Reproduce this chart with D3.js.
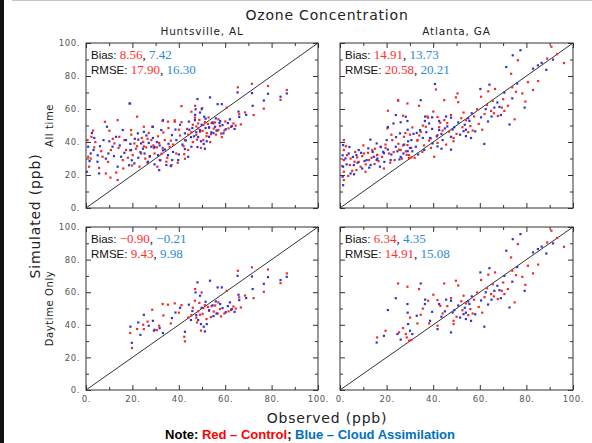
<!DOCTYPE html>
<html>
<head>
<meta charset="utf-8">
<script src="https://cdn.jsdelivr.net/npm/d3@7"></script>
<style>
    body { margin: 0; background: #fff; }
    svg { display: block; }
</style>
</head>
<body>
<div id="chart"></div>
<script>
// observed, simulated (ppb)
// daytime points show up in both rows, night points only in "All time"
const hsvDayRed = [[19.0,35.0],[19.8,25.8],[24.6,40.1],[24.9,37.4],[28.5,49.3],[29.2,36.4],[30.5,36.8],[33.0,52.8],
    [33.3,45.8],[35.3,52.4],[36.5,40.9],[38.2,53.2],[41.1,52.1],[42.3,32.7],[42.6,29.9],[45.4,46.0],[47.0,62.0],
    [46.9,54.8],[47.5,44.4],[48.3,48.3],[49.1,46.2],[49.8,59.9],[50.5,50.3],[51.2,52.1],[51.9,43.6],[53.0,48.7],
    [54.1,51.5],[55.6,51.9],[56.7,47.0],[57.7,49.7],[59.6,47.0],[60.6,60.9],[61.4,48.3],[63.5,51.3],[65.4,73.2],
    [66.0,56.9],[66.7,50.7],[71.5,75.3],[72.2,56.4],[76.6,60.3],[78.4,74.0],[83.8,65.6],[86.5,71.6],
    [44.0,44.5],[46.0,50.5],[48.8,53.5],[50.2,46.8],[52.5,51.0],[53.8,44.8],[55.0,48.2],[57.0,53.8],[58.2,45.2],
    [62.5,49.2],[31.5,39.5],[26.5,42.0],[22.0,37.5],[40.0,47.5],[47.8,41.5],[49.5,36.5],[64.5,50.0],[68.5,58.0]];
const hsvDayBlue = [[19.1,38.9],[19.7,29.0],[24.9,46.2],[23.4,33.9],[28.8,42.5],[31.7,38.0],[33.1,35.0],[38.5,47.6],
    [37.0,44.2],[42.6,35.8],[44.3,52.4],[47.2,59.9],[48.0,66.1],[49.1,57.9],[49.5,40.5],[50.7,38.9],[51.2,36.0],
    [53.4,67.1],[54.9,45.4],[56.7,63.0],[58.5,63.0],[58.8,50.3],[61.1,51.5],[62.8,49.7],[65.3,70.1],[65.7,58.5],
    [66.0,55.2],[71.5,69.7],[71.8,62.0],[76.6,65.2],[78.4,69.3],[83.8,67.5],[86.5,69.5],[45.2,43.0],[55.9,54.4],
    [45.8,48.5],[47.5,46.0],[49.8,50.5],[51.5,54.2],[53.0,49.0],[54.5,52.0],[56.2,47.0],[57.8,52.8],[60.2,47.8],
    [62.0,53.8],[29.5,37.0],[27.0,39.5],[22.5,41.5],[40.5,50.5],[48.3,43.0],[52.0,40.5],[64.0,48.0],[69.0,56.5]];
const hsvNightRed = [[0.6,41.2],[0.9,31.1],[1.3,25.1],[2.3,43.2],[3.5,36.8],[5.6,24.4],[7.1,31.1],[8.1,52.3],
    [8.5,21.0],[10.0,46.9],[10.7,35.2],[12.2,39.2],[13.6,53.3],[13.6,17.0],[14.3,43.2],[15.8,29.1],[16.5,41.2],
    [17.2,35.2],[19.0,63.4],[19.4,47.3],[20.1,32.1],[20.8,39.2],[22.0,55.4],[23.0,25.1],[23.7,33.1],[24.9,49.3],
    [25.9,36.8],[27.4,31.1],[28.1,41.2],[29.5,33.1],[30.7,25.1],[31.7,29.1],[33.9,41.2],[34.6,28.1],[36.0,37.2],
    [36.8,26.1],[38.2,52.3],[38.9,33.1],[41.1,61.8],[45.4,58.4],[48.3,51.3],[50.5,41.2],[52.8,54.9],[54.9,51.3],
    [57.0,47.3],[42.6,41.2],[44.0,35.2],
    [2.0,30.0],[4.0,40.0],[6.5,34.5],[9.5,28.0],[11.5,42.0],[14.0,36.5],[16.0,24.0],[18.0,30.5],[21.5,36.0],
    [24.0,42.5],[26.5,27.5],[27.0,45.5],[29.0,38.0],[31.0,43.5],[32.5,33.0],[35.0,30.5],[37.5,38.5],[39.5,27.5],
    [40.5,44.0],[43.5,48.0],[46.0,40.0],[47.5,49.5],[52.0,45.5],[53.5,40.0],[56.0,44.5],[13.0,21.5],[10.5,18.5],
    [3.0,47.0],[19.5,44.5],[25.5,30.0],[33.0,36.5],[35.5,48.5],[42.0,37.5],[60.0,52.5],[58.5,43.0]];
const hsvNightBlue = [[0.3,22.0],[0.9,37.2],[2.0,33.1],[3.2,35.2],[4.9,28.1],[5.6,21.0],[7.5,41.2],[9.0,49.3],
    [9.6,33.1],[11.4,37.2],[12.9,43.2],[13.6,25.1],[15.1,31.1],[15.8,47.3],[17.2,41.2],[18.7,63.4],[19.4,35.2],
    [20.8,27.1],[22.3,45.3],[23.7,39.2],[25.2,33.1],[26.6,28.1],[28.1,37.2],[28.8,49.3],[31.0,32.1],[32.4,47.3],
    [33.1,53.3],[34.6,26.1],[35.3,32.1],[36.5,25.5],[37.1,29.1],[38.9,41.2],[39.7,29.1],[42.6,45.3],[44.0,31.1],
    [45.4,37.2],[46.9,53.3],[49.1,47.3],[50.9,55.4],[53.0,43.2],[55.6,49.3],[59.2,45.3],
    [1.5,28.5],[3.5,42.5],[6.0,37.5],[8.5,30.0],[10.0,40.5],[12.0,31.5],[14.5,38.0],[16.5,33.5],[18.5,26.0],
    [21.0,42.0],[22.5,30.5],[24.5,36.0],[26.0,44.0],[27.5,31.5],[29.5,26.5],[30.5,40.0],[32.0,29.0],[34.0,35.5],
    [35.5,39.0],[37.5,34.0],[40.0,32.5],[41.5,38.5],[43.0,41.0],[44.5,47.5],[46.5,43.5],[48.0,37.0],[51.5,48.5],
    [54.0,46.0],[57.5,51.5],[47.0,56.5],[50.0,60.5],[5.0,32.0],[2.5,45.5],[31.5,23.0]];

const atlDayRed = [[15.9,32.3],[19.5,36.4],[24.9,65.4],[25.3,35.4],[28.2,34.4],[28.6,32.3],[28.9,63.4],[29.6,30.3],
    [30.6,30.7],[33.2,40.9],[33.9,62.0],[34.6,46.2],[37.8,54.8],[38.2,40.9],[41.8,55.2],[43.0,51.7],[44.7,65.4],
    [47.6,56.4],[48.7,42.5],[49.7,67.1],[50.7,64.2],[53.0,57.9],[54.0,53.2],[55.9,49.7],[56.9,47.0],[58.8,59.9],
    [60.5,67.5],[63.6,70.8],[64.8,58.9],[65.5,65.0],[66.5,72.2],[67.7,55.8],[69.4,60.9],[70.5,58.9],[73.4,81.4],
    [73.9,73.2],[74.9,53.8],[76.3,89.6],[78.2,69.5],[79.5,64.6],[80.6,76.3],[82.8,71.6],[88.9,90.6],[90.7,97.8],
    [93.1,93.3],[96.1,87.9],[48.7,40.5],[41.8,39.5],
    [44.0,47.0],[46.0,51.5],[50.0,45.0],[52.0,54.5],[55.0,46.0],[57.5,55.5],[59.5,51.0],[62.0,57.0],[63.0,62.5],
    [66.0,57.5],[70.0,66.0],[72.0,62.0],[75.5,70.5],[85.0,77.0],[30.0,44.5],[35.5,50.0],[40.0,58.5],[27.0,38.0],
    [52.5,49.0],[61.0,47.5]];
const atlDayBlue = [[15.7,29.2],[18.8,33.3],[20.5,49.1],[23.9,56.4],[24.6,34.4],[28.9,52.8],[29.2,40.5],[30.0,36.4],
    [31.0,34.4],[32.9,45.6],[34.6,65.4],[36.4,52.8],[38.6,42.5],[41.8,37.4],[42.5,52.8],[45.0,48.3],[47.6,35.4],
    [48.3,47.6],[50.7,51.9],[53.0,46.6],[54.0,43.6],[55.5,52.8],[56.2,42.5],[60.2,72.2],[61.9,38.9],[64.1,74.8],
    [66.2,60.9],[68.4,61.3],[69.0,56.4],[71.3,85.5],[72.7,50.7],[73.9,66.5],[74.1,92.6],[77.4,95.7],[79.2,60.9],
    [82.8,84.5],[84.9,86.5],[88.5,83.8],[91.4,90.0],[47.6,54.8],[55.0,54.4],
    [43.5,45.0],[45.5,55.5],[49.0,49.0],[51.5,44.5],[53.5,50.5],[56.5,57.5],[58.0,46.5],[60.5,55.0],[62.5,60.0],
    [65.0,55.5],[67.5,64.0],[70.5,70.0],[76.0,75.5],[86.5,88.0],[29.0,47.5],[36.5,55.5],[39.5,48.0],[26.0,31.0],
    [54.0,47.5],[63.5,52.5]];
const atlNightRed = [[1.6,41.2],[1.6,35.2],[1.6,29.1],[1.6,22.0],[1.6,17.0],[3.0,32.1],[4.2,26.1],[5.2,22.6],
    [6.2,28.1],[7.3,30.7],[8.8,25.1],[10.2,33.1],[10.9,22.0],[12.4,29.1],[13.8,35.2],[14.8,26.7],[15.9,32.1],
    [17.4,37.2],[18.8,24.0],[20.3,48.3],[21.0,33.1],[22.4,41.2],[23.4,29.1],[24.9,65.1],[26.0,35.2],[27.4,43.2],
    [28.9,38.2],[29.6,32.1],[31.0,48.9],[33.2,41.2],[35.3,34.1],[36.8,49.3],[38.9,42.2],[40.4,31.1],[41.1,71.9],
    [41.8,44.2],[44.7,53.3],[46.8,46.3],[50.4,69.5],
    [0.9,25.5],[2.5,37.5],[4.5,30.0],[6.5,34.0],[8.0,28.0],[9.5,31.5],[11.0,26.5],[12.0,33.5],[13.5,30.5],
    [15.0,36.0],[16.5,28.5],[18.0,31.0],[19.5,38.5],[21.5,27.5],[23.0,34.0],[25.0,39.0],[26.5,30.0],[28.0,45.5],
    [30.5,36.5],[32.0,30.5],[34.0,44.0],[36.0,38.0],[37.5,55.5],[39.0,36.5],[42.5,49.0],[45.5,38.5],[3.5,19.5],
    [7.0,23.0],[10.0,38.0],[22.0,44.5],[27.0,56.0],[20.5,59.0]];
const atlNightBlue = [[1.3,38.2],[1.3,25.1],[1.3,13.9],[2.3,30.1],[3.7,33.1],[4.5,21.0],[5.9,26.1],[7.0,32.1],
    [8.0,35.2],[9.5,24.0],[11.4,29.1],[12.1,36.2],[13.1,26.1],[14.5,31.1],[15.7,39.2],[17.1,25.1],[18.5,34.1],
    [20.0,41.2],[21.7,29.1],[22.9,51.3],[23.9,37.2],[25.7,45.3],[27.2,33.1],[28.2,55.4],[30.6,41.2],[32.5,37.2],
    [34.3,47.3],[36.1,35.2],[38.2,51.3],[39.7,39.2],[40.7,75.2],[42.5,47.3],[44.0,41.2],[47.6,43.2],
    [1.1,32.0],[1.1,19.0],[2.8,26.5],[4.0,37.0],[5.5,31.0],[7.5,27.5],[9.0,33.5],[10.5,28.5],[12.5,24.5],
    [14.0,34.0],[16.0,30.0],[17.5,37.0],[19.0,28.0],[20.5,35.5],[22.0,32.5],[24.0,43.0],[25.5,29.5],[27.5,38.5],
    [29.0,34.5],[31.5,45.0],[33.5,32.5],[35.5,42.5],[37.0,46.0],[39.5,55.0],[41.5,43.5],[43.5,36.0],[46.0,49.5],
    [6.0,20.5],[13.0,41.5],[26.0,52.0]];

// [control, cloud assimilation]
const biasAll = [['8.56', '7.42'], ['14.91', '13.73']];
const rmseAll = [['17.90', '16.30'], ['20.58', '20.21']];
const biasDay = [['\u22120.90', '\u22120.21'], ['6.34', '4.35']];
const rmseDay = [['9.43', '9.98'], ['14.91', '15.08']];

const sites = ['Huntsville, AL', 'Atlanta, GA'];
const rows = ['All time', 'Daytime Only'];
const majorTicks = [0, 20, 40, 60, 80, 100];
const minorTicks = [10, 30, 50, 70, 90];

const RED = '#ee2b2b', BLUE = '#3232d2';
const TXT_RED = '#ff2f2f', TXT_BLUE = '#2b8ad6';
const SANS = 'DejaVu Sans, sans-serif';

const colX = [[86, 318], [340, 573]];
const rowY = [[43, 208], [227, 390]];

const svg = d3.select('#chart').append('svg')
    .attr('width', 592)
    .attr('height', 443);

// frame of the screenshot
svg.append('rect').attr('x', 0).attr('y', 0).attr('width', 4).attr('height', 443).attr('fill', '#111');
svg.append('line').attr('x1', 12).attr('x2', 592).attr('y1', 0.5).attr('y2', 0.5).attr('stroke', '#c8c8c8');

function label(x, y, txt, size, spacing, rotate) {
    return svg.append('text')
        .attr('transform', 'translate(' + x + ',' + y + ')' + (rotate ? ' rotate(-90)' : ''))
        .attr('text-anchor', 'middle')
        .style('font-family', SANS).style('font-size', size + 'px')
        .style('letter-spacing', spacing + 'px')
        .attr('fill', '#222')
        .text(txt);
}

label(327, 20, 'Ozone Concentration', 14, 0.8, false);
sites.forEach((s, i) => label((colX[i][0] + colX[i][1]) / 2, 35, s, 10.5, 0.8, false));
rows.forEach((r, i) => label(53, (rowY[i][0] + rowY[i][1]) / 2, r, 10, 0.6, true));
label(40, 216, 'Simulated (ppb)', 14, 0.8, true);
label(327, 423, 'Observed (ppb)', 14, 0.8, false);

let note = svg.append('text')
    .attr('x', 310).attr('y', 439)
    .attr('text-anchor', 'middle')
    .style('font-family', 'Liberation Sans, Arial, sans-serif')
    .style('font-size', '13px').style('font-weight', 'bold');
note.append('tspan').attr('fill', '#000').text('Note: ');
note.append('tspan').attr('fill', '#ff0000').text('Red \u2013 Control');
note.append('tspan').attr('fill', '#000').text('; ');
note.append('tspan').attr('fill', '#0070c0').text('Blue \u2013 Cloud Assimilation');

function drawPanel(col, row, red, blue, bias, rmse) {
    let x = d3.scaleLinear().domain([0, 100]).range(colX[col]);
    let y = d3.scaleLinear().domain([0, 100]).range([rowY[row][1], rowY[row][0]]);
    let g = svg.append('g');

    g.append('line')
        .attr('x1', x(0)).attr('y1', y(0))
        .attr('x2', x(100)).attr('y2', y(100))
        .attr('stroke', '#333').attr('stroke-width', 1);

    g.append('g').selectAll('rect')
        .data(red)
        .enter().append('rect')
        .attr('x', d => x(d[0]) - 1)
        .attr('y', d => y(d[1]) - 1)
        .attr('width', 2.2).attr('height', 2.2)
        .attr('fill', RED);

    g.append('g').selectAll('rect')
        .data(blue)
        .enter().append('rect')
        .attr('x', d => x(d[0]) - 1)
        .attr('y', d => y(d[1]) - 1)
        .attr('width', 2.2).attr('height', 2.2)
        .attr('fill', BLUE);

    // inward ticks on all four sides
    let sides = [
        [d3.axisBottom(x), 'translate(0,' + y(0) + ')', row === 1],
        [d3.axisTop(x), 'translate(0,' + y(100) + ')', false],
        [d3.axisLeft(y), 'translate(' + x(0) + ',0)', col === 0],
        [d3.axisRight(y), 'translate(' + x(100) + ',0)', false]
    ];
    sides.forEach(([axis, tr, labelled]) => {
        let major = g.append('g').attr('transform', tr)
            .call(axis.tickValues(majorTicks).tickSize(-5).tickPadding(6)
                .tickFormat(labelled ? (d => d + '.') : ''));
        major.select('.domain').remove();
        major.selectAll('line').attr('stroke', '#333');
        major.selectAll('text')
            .style('font-family', SANS).style('font-size', '8.5px')
            .style('letter-spacing', '0.6px').attr('fill', '#555');
        let minor = g.append('g').attr('transform', tr)
            .call(axis.tickValues(minorTicks).tickSize(-3).tickFormat(''));
        minor.select('.domain').remove();
        minor.selectAll('line').attr('stroke', '#333');
    });

    g.append('rect')
        .attr('x', x(0)).attr('y', y(100))
        .attr('width', x(100) - x(0)).attr('height', y(0) - y(100))
        .attr('fill', 'none').attr('stroke', '#333').attr('stroke-width', 1);

    [['Bias: ', bias, 16], ['RMSE: ', rmse, 31]].forEach(([lab, vals, dy]) => {
        let t = g.append('text')
            .attr('x', x(0) + 5).attr('y', y(100) + dy);
        t.append('tspan').style('font-family', 'Liberation Sans, Arial, sans-serif')
            .style('font-size', '11.5px').attr('fill', '#111').text(lab);
        t.append('tspan').style('font-family', 'Liberation Serif, serif')
            .style('font-size', '13px').attr('fill', TXT_RED).text(vals[0]);
        t.append('tspan').style('font-family', 'Liberation Serif, serif')
            .style('font-size', '13px').attr('fill', '#111').text(', ');
        t.append('tspan').style('font-family', 'Liberation Serif, serif')
            .style('font-size', '13px').attr('fill', TXT_BLUE).text(vals[1]);
    });
}

drawPanel(0, 0, hsvDayRed.concat(hsvNightRed), hsvDayBlue.concat(hsvNightBlue), biasAll[0], rmseAll[0]);
drawPanel(1, 0, atlDayRed.concat(atlNightRed), atlDayBlue.concat(atlNightBlue), biasAll[1], rmseAll[1]);
drawPanel(0, 1, hsvDayRed, hsvDayBlue, biasDay[0], rmseDay[0]);
drawPanel(1, 1, atlDayRed, atlDayBlue, biasDay[1], rmseDay[1]);
</script>
</body>
</html>
